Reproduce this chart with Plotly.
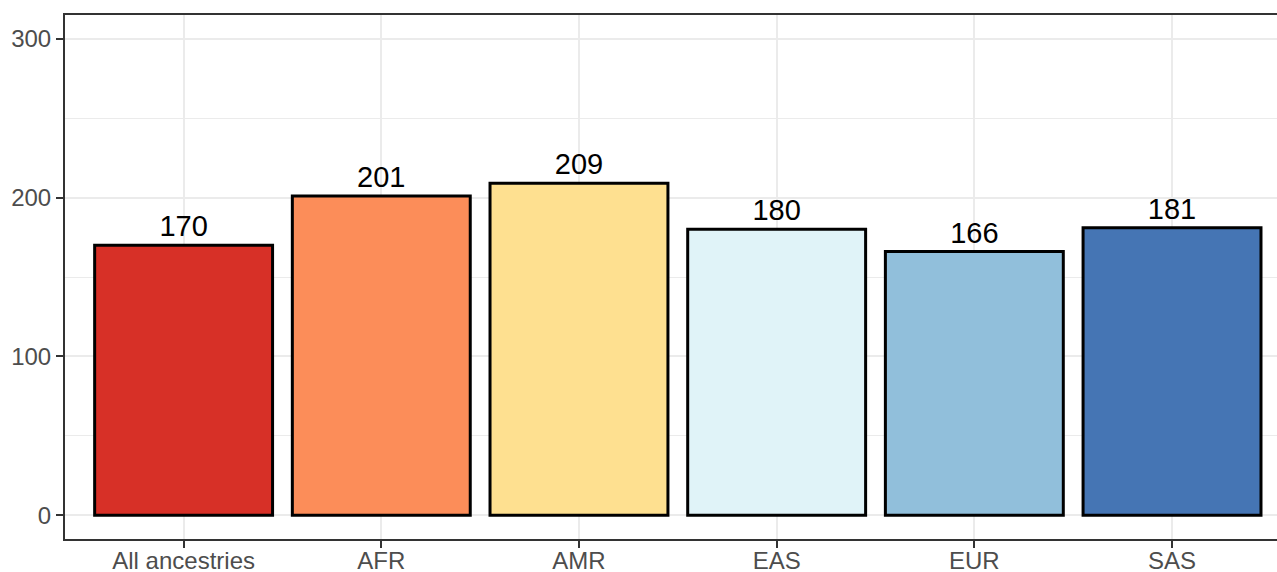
import plotly.graph_objects as go

# counts per ancestry group
groups = ['All ancestries', 'AFR', 'AMR', 'EAS', 'EUR', 'SAS']
counts = [170, 201, 209, 180, 166, 181]
bar_colors = ['#D73027', '#FC8D59', '#FEE090', '#E0F3F8', '#91BFDB', '#4575B4']
y_ticks = [0, 100, 200, 300]

fig = go.Figure()

fig.add_trace(go.Bar(
    x=groups,
    y=counts,
    width=0.9,
    marker=dict(color=bar_colors, line=dict(color='black', width=3)),
    text=[str(c) for c in counts],
    textposition='outside',
    textfont=dict(family='Arial, Liberation Sans', size=29, color='black'),
    cliponaxis=False,
    showlegend=False,
))

fig.update_layout(
    width=1277, height=572,
    margin=dict(l=65, r=0, t=15, b=33),
    plot_bgcolor='white',
    paper_bgcolor='white',
    font=dict(family='Arial, Liberation Sans'),
)

fig.update_xaxes(
    range=[-0.6, 5.531],
    automargin=False,
    showgrid=True, gridcolor='#EBEBEB', gridwidth=2,
    showline=True, linecolor='#333333', linewidth=2, mirror=True,
    ticks='outside', ticklen=7, tickwidth=2, tickcolor='#333333',
    ticklabelstandoff=-8,
    tickfont=dict(size=24, color='#4D4D4D'),
)

fig.update_yaxes(
    range=[-15, 315],
    automargin=False,
    tickvals=y_ticks,
    showgrid=True, gridcolor='#EBEBEB', gridwidth=2,
    minor=dict(dtick=50, tick0=0, showgrid=True, gridcolor='#EBEBEB', gridwidth=1),
    zeroline=False,
    showline=True, linecolor='#333333', linewidth=2,
    ticks='outside', ticklen=7, tickwidth=2, tickcolor='#333333',
    tickfont=dict(size=24, color='#4D4D4D'),
)

# page body has a default 8px margin, drop it so the figure sits at 0,0
fig.write_html('out.html', config={'displayModeBar': False},
               post_script="document.body.style.margin='0px';")
